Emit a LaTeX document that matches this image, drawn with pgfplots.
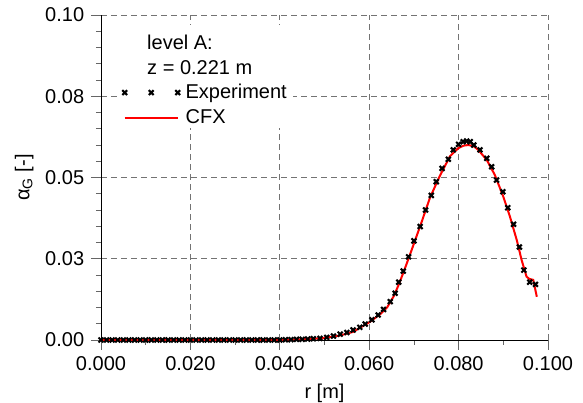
\documentclass[border=0pt]{standalone}
\usepackage{pgfplots}
\pgfplotsset{compat=1.18}
\usetikzlibrary{calc}
\usepackage{fontspec}
\setmainfont{Liberation Sans}

\pgfplotsset{
    threemarks/.style={legend image code/.code={\draw[##1] plot coordinates {(0pt,0pt) (26.5pt,0pt) (53pt,0pt)};}},
    longline/.style={legend image code/.code={\draw[##1] (0pt,0pt) -- (53pt,0pt);}},
}

\pgfplotstableread{
r        a
0.00000  0.0000
0.00125  0.0000
0.00250  0.0000
0.00375  0.0000
0.00500  0.0000
0.00625  0.0000
0.00750  0.0000
0.00875  0.0000
0.01000  0.0000
0.01125  0.0000
0.01250  0.0000
0.01375  0.0000
0.01500  0.0000
0.01625  0.0000
0.01750  0.0000
0.01875  0.0000
0.02000  0.0000
0.02125  0.0000
0.02250  0.0000
0.02375  0.0000
0.02500  0.0000
0.02625  0.0000
0.02750  0.0000
0.02875  0.0000
0.03000  0.0000
0.03125  0.0000
0.03250  0.0000
0.03375  0.0000
0.03500  0.0000
0.03625  0.0000
0.03750  0.0000
0.03875  0.0000
0.04000  0.0000
0.04125  0.0001
0.04250  0.0001
0.04375  0.0002
0.04500  0.0002
0.04625  0.0003
0.04750  0.0004
0.0490   0.0005
0.0505   0.0008
0.0520   0.0012
0.0535   0.0018
0.0550   0.0023
0.0564   0.0031
0.0579   0.0039
0.0591   0.0049
0.0606   0.0062
0.0620   0.0077
0.0632   0.0094
0.0647   0.0118
0.0658   0.0144
0.0666   0.0178
0.0676   0.0212
0.0688   0.0256
0.0700   0.0305
0.0714   0.0349
0.0726   0.0400
0.0739   0.0445
0.0750   0.0487
0.0763   0.0528
0.0777   0.0556
0.0788   0.0585
0.0800   0.0602
0.0810   0.0610
0.0818   0.0612
0.0826   0.0610
0.0834   0.0600
0.0848   0.0585
0.0863   0.0559
0.0874   0.0533
0.0885   0.0492
0.0899   0.0456
0.0910   0.0407
0.0923   0.0356
0.0936   0.0286
0.0946   0.0215
0.0959   0.0178
0.0972   0.0171
}\expdata

\pgfplotstableread{
r       a
0.0000  0.0000
0.0400  0.0000
0.0450  0.0002
0.0500  0.0006
0.0535  0.0014
0.0564  0.0025
0.0602  0.0056
0.0625  0.0080
0.0640  0.0100
0.0655  0.0135
0.0666  0.0170
0.0678  0.0213
0.0690  0.0258
0.0702  0.0304
0.0717  0.0362
0.0736  0.0438
0.0758  0.0505
0.0781  0.0566
0.0799  0.0590
0.0811  0.0598
0.0822  0.0600
0.0834  0.0596
0.0844  0.0585
0.0863  0.0554
0.0881  0.0508
0.0900  0.0441
0.0915  0.0379
0.0930  0.0308
0.0941  0.0246
0.0952  0.0195
0.0958  0.0188
0.0967  0.0185
0.0975  0.0133
}\cfxdata

\begin{document}
\fontsize{20}{24}\selectfont
\begin{tikzpicture}
\begin{axis}[
    scale only axis, width=447pt, height=325pt,
    xmin=0, xmax=0.1, ymin=0, ymax=0.1,
    axis lines=left, axis line style={-, line width=0.8pt},
    xtick={0,0.02,0.04,0.06,0.08,0.1},
    xticklabels={0.000,0.020,0.040,0.060,0.080,0.100},
    ytick={0,0.025,0.05,0.075,0.1},
    yticklabels={0.00,0.03,0.05,0.08,0.10},
    minor x tick num=1, minor y tick num=4,
    tick align=outside,
    major tick length=10pt, minor tick length=5pt,
    every tick/.style={black!60, line width=0.8pt},
    /pgf/number format/assume math mode=true,
    grid=major,
    major grid style={black!55, dash pattern=on 6pt off 4pt, line width=0.8pt},
    xlabel={r [m]}, ylabel={α\textsubscript{G} [-]},
    xlabel style={at={(axis description cs:0.5,-0.163)}, anchor=center},
    ylabel style={at={(axis description cs:-0.172,0.5)}, anchor=center},
    clip=false,
    legend style={at={(axis description cs:0.045,0.795)}, anchor=north west,
        draw=none, fill=none, inner sep=1pt,
        nodes={inner sep=1pt}, row sep=6.5pt,
        /tikz/every odd column/.append style={column sep=4.5pt}},
    legend cell align=left,
]
\fill[white] (axis description cs:0.036,0.969) rectangle (axis description cs:0.430,0.652);
\node[anchor=base west, inner sep=0pt] at (axis description cs:0.103,0.895) {level A:};
\node[anchor=base west, inner sep=0pt] at (axis description cs:0.103,0.818) {z = 0.221 m};

\addplot[only marks, mark=x, mark size=3.4pt, mark options={line width=2.1pt}, black, threemarks]
    table[x=r, y=a] {\expdata};
\addlegendentry{Experiment}
\addplot[red, line width=2pt, no marks, longline]
    table[x=r, y=a] {\cfxdata};
\addlegendentry{CFX}
\coordinate (bl) at (axis description cs:0,0);
\coordinate (tr) at (axis description cs:1,1);
\end{axis}
\pgfresetboundingbox
\path ($(bl)+(-101pt,-63pt)$) rectangle ($(tr)+(35pt,15pt)$);
\end{tikzpicture}
\end{document}
